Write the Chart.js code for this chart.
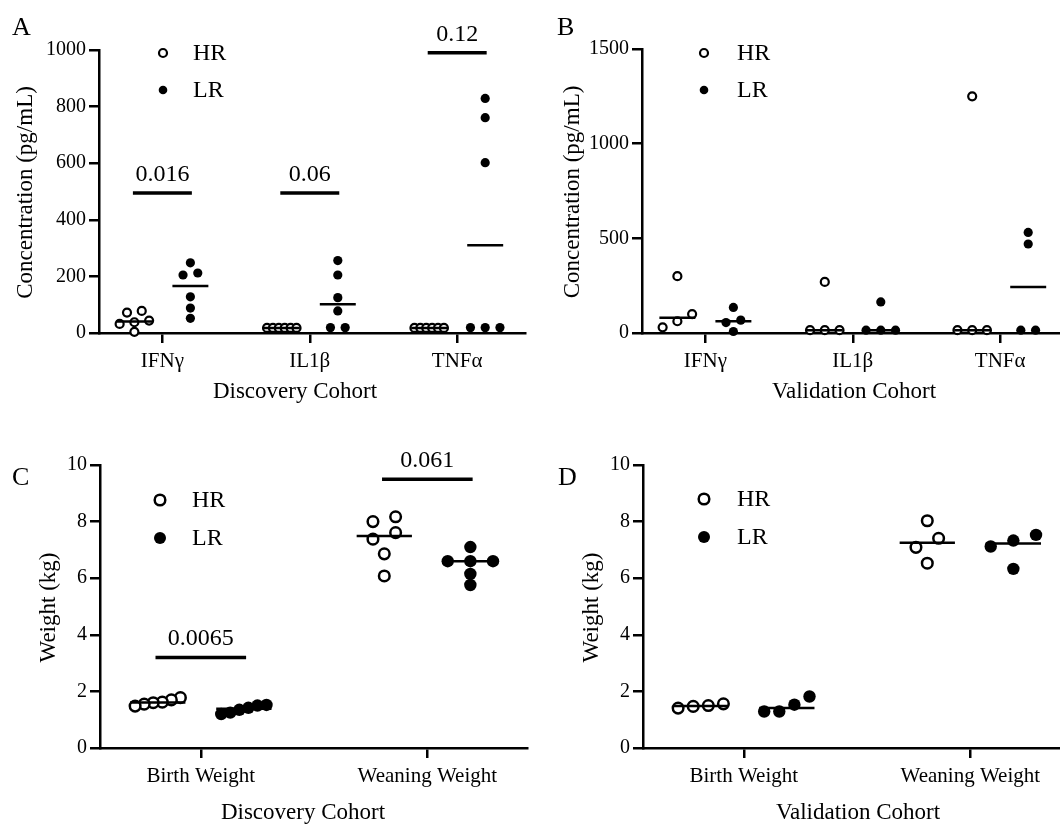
<!DOCTYPE html>
<html lang="en">
<head>
<meta charset="UTF-8">
<title>HR vs LR - cytokines and weights</title>
<script src="https://cdn.jsdelivr.net/npm/chart.js"></script>
<style>
  html, body { margin: 0; padding: 0; background: #fff; overflow: hidden; }
  body { width: 1060px; height: 828px; position: relative; }
  canvas { position: absolute; }
</style>
</head>
<body>
<canvas id="chartA" width="545" height="414" style="left:0;top:0"></canvas>
<canvas id="chartB" width="530" height="414" style="left:545px;top:0"></canvas>
<canvas id="chartC" width="545" height="414" style="left:0;top:414px"></canvas>
<canvas id="chartD" width="530" height="414" style="left:545px;top:414px"></canvas>
<script>
// categories
const cytokines = ['IFNγ', 'IL1β', 'TNFα'];
const weightTimes = ['Birth Weight', 'Weaning Weight'];

// A: discovery cohort cytokines (pg/mL), one inner array per cytokine
const discCytoHR = [[78, 72, 44, 38, 32, 4], [18, 18, 18, 18, 18, 18], [18, 18, 18, 18, 18, 18]];
const discCytoLR = [[248, 212, 205, 128, 88, 52], [256, 205, 125, 78, 19, 19], [829, 761, 602, 19, 19, 19]];
const discCytoP = ['0.016', '0.06', '0.12'];
const discCytoBarY = [495, 495, 990];

// B: validation cohort cytokines (pg/mL)
const valCytoHR = [[300, 100, 62, 30], [270, 15, 15, 15], [1250, 15, 15, 15]];
const valCytoLR = [[135, 68, 55, 8], [164, 15, 15, 15], [531, 470, 15, 15]];

// C: discovery cohort weights (kg)
const discWeightHR = [[1.78, 1.7, 1.62, 1.6, 1.55, 1.48], [8.17, 8.0, 7.61, 7.38, 6.86, 6.08]];
const discWeightLR = [[1.52, 1.5, 1.42, 1.35, 1.25, 1.2], [7.1, 6.6, 6.6, 6.6, 6.15, 5.76]];
const discWeightP = ['0.0065', '0.061'];
const discWeightBarY = [3.2, 9.5];

// D: validation cohort weights (kg)
const valWeightHR = [[1.56, 1.5, 1.47, 1.41], [8.03, 7.41, 7.09, 6.53]];
const valWeightLR = [[1.82, 1.53, 1.29, 1.29], [7.53, 7.33, 7.12, 6.33]];

// tick labels
const cytoTicksA = [0, 200, 400, 600, 800, 1000];
const cytoTicksB = [0, 500, 1000, 1500];
const weightTicks = [0, 2, 4, 6, 8, 10];

const FONT = '"Liberation Serif", "Times New Roman", serif';
const GROUP_OFF = 0.19;   // HR left of the tick, LR right
const MEDIAN_HALF = 0.122;
const BAR_HALF = 0.2;

function median(vals) {
  const s = vals.slice().sort((a, b) => a - b);
  const n = s.length;
  return n % 2 ? s[(n - 1) / 2] : (s[n / 2 - 1] + s[n / 2]) / 2;
}

// simple row-wise scatter spread, like a column scatter plot
function spread(vals, pxPerY, thr) {
  const idx = vals.map((v, i) => i).sort((a, b) => vals[b] - vals[a]);
  const offs = new Array(vals.length).fill(0);
  let row = [];
  const flush = () => {
    const r = row.slice().sort((a, b) => vals[a] - vals[b]);
    const n = r.length;
    const step = n > 1 ? Math.min(0.1, 0.2 / (n - 1)) : 0;
    r.forEach((k, j) => { offs[k] = (j - (n - 1) / 2) * step; });
    row = [];
  };
  idx.forEach(k => {
    if (row.length && (vals[row[row.length - 1]] - vals[k]) * pxPerY >= thr) flush();
    row.push(k);
  });
  flush();
  return offs;
}

const annotate = {
  id: 'annotate',
  afterDraw(chart, args, o) {
    const ctx = chart.ctx;
    const area = chart.chartArea;
    const xs = chart.scales.x, ys = chart.scales.y;
    ctx.save();
    ctx.fillStyle = '#000';
    ctx.strokeStyle = '#000';

    ctx.font = '26px ' + FONT;
    ctx.textAlign = 'left';
    ctx.textBaseline = 'alphabetic';
    ctx.fillText(o.letter, o.letterX, o.letterY);

    ctx.font = '23px ' + FONT;
    ctx.textAlign = 'center';
    ctx.textBaseline = 'middle';
    ctx.save();
    ctx.translate(o.yTitleX, (area.top + area.bottom) / 2 + 1);
    ctx.rotate(-Math.PI / 2);
    ctx.fillText(o.yTitle, 0, 0);
    ctx.restore();
    ctx.fillText(o.xTitle, o.xTitleX, o.xTitleY);

    // legend
    ctx.font = '24px ' + FONT;
    ctx.textAlign = 'left';
    ctx.beginPath();
    ctx.arc(o.legX, o.legY[0], o.rOpen, 0, Math.PI * 2);
    ctx.fillStyle = '#fff';
    ctx.fill();
    ctx.lineWidth = o.bw;
    ctx.stroke();
    ctx.fillStyle = '#000';
    ctx.beginPath();
    ctx.arc(o.legX, o.legY[1], o.rFill, 0, Math.PI * 2);
    ctx.fill();
    ctx.fillText('HR', o.legTextX, o.legY[0] + 1);
    ctx.fillText('LR', o.legTextX, o.legY[1] + 1);

    // p values above the bars
    if (o.pLabels) {
      ctx.textAlign = 'center';
      ctx.textBaseline = 'alphabetic';
      o.pLabels.forEach((t, i) => {
        ctx.fillText(t, xs.getPixelForValue(i), ys.getPixelForValue(o.pBars[i]) - 12);
      });
    }
    ctx.restore();
  }
};

function buildPanel(id, cats, hr, lr, yTicks, cfg, ann) {
  const plotH = cfg.bottom - cfg.top;
  const pxPerY = plotH / yTicks[yTicks.length - 1];
  const datasets = [];
  cats.forEach((c, i) => {
    [[hr[i], -GROUP_OFF, true], [lr[i], GROUP_OFF, false]].forEach(([vals, off, open]) => {
      const jit = spread(vals, pxPerY, cfg.thr);
      datasets.push({
        type: 'scatter',
        data: vals.map((v, k) => ({ x: i + off + jit[k], y: v })),
        pointStyle: 'circle',
        pointRadius: open ? cfg.rOpen : cfg.rFill,
        pointHoverRadius: open ? cfg.rOpen : cfg.rFill,
        pointBackgroundColor: open ? '#fff' : '#000',
        pointBorderColor: '#000',
        pointBorderWidth: open ? cfg.bw : 0,
        clip: false,
        order: 2
      });
      const m = median(vals);
      datasets.push({
        type: 'line',
        data: [{ x: i + off - MEDIAN_HALF, y: m }, { x: i + off + MEDIAN_HALF, y: m }],
        borderColor: '#000',
        borderWidth: 2.5,
        pointRadius: 0,
        clip: false,
        order: 1
      });
    });
    if (ann.pBars) {
      datasets.push({
        type: 'line',
        data: [{ x: i - BAR_HALF, y: ann.pBars[i] }, { x: i + BAR_HALF, y: ann.pBars[i] }],
        borderColor: '#000',
        borderWidth: 3.5,
        pointRadius: 0,
        clip: false,
        order: 1
      });
    }
  });

  const axisStyle = {
    border: { display: true, color: '#000', width: 2.5 },
    grid: { display: true, drawOnChartArea: false, drawTicks: true, tickLength: 10, lineWidth: 2.5, color: '#000' }
  };

  new Chart(document.getElementById(id), {
    type: 'scatter',
    data: { datasets },
    options: {
      responsive: false,
      animation: false,
      events: [],
      layout: {
        autoPadding: false,
        padding: { left: 0, top: cfg.top, right: cfg.canvasW - cfg.right, bottom: 0 }
      },
      plugins: {
        legend: { display: false },
        tooltip: { enabled: false },
        annotate: ann
      },
      scales: {
        x: {
          type: 'linear',
          min: cfg.xMin,
          max: cfg.xMax,
          ...axisStyle,
          afterBuildTicks: s => { s.ticks = cats.map((c, i) => ({ value: i })); },
          afterFit: s => { s.height = cfg.canvasH - cfg.bottom; },
          ticks: {
            color: '#000',
            padding: 6,
            font: { family: FONT, size: 21 },
            callback: v => cats[v]
          }
        },
        y: {
          type: 'linear',
          min: 0,
          max: yTicks[yTicks.length - 1],
          ...axisStyle,
          afterBuildTicks: s => { s.ticks = yTicks.map(v => ({ value: v })); },
          afterFit: s => { s.width = cfg.left; },
          ticks: {
            color: '#000',
            padding: 3,
            font: { family: FONT, size: 20 },
            callback: v => String(v)
          }
        }
      }
    },
    plugins: [annotate]
  });
}

buildPanel('chartA', cytokines, discCytoHR, discCytoLR, cytoTicksA,
  { canvasW: 545, canvasH: 414, left: 99, right: 525, top: 50, bottom: 333, xMin: -0.43, xMax: 2.46, thr: 7.5, rOpen: 4, rFill: 4.6, bw: 2.2 },
  { letter: 'A', letterX: 12, letterY: 35, yTitle: 'Concentration (pg/mL)', yTitleX: 26, xTitle: 'Discovery Cohort', xTitleX: 295, xTitleY: 392,
    legX: 163, legY: [53, 90], legTextX: 193, rOpen: 4, rFill: 4.3, bw: 2.2, pLabels: discCytoP, pBars: discCytoBarY });

buildPanel('chartB', cytokines, valCytoHR, valCytoLR, cytoTicksB,
  { canvasW: 530, canvasH: 414, left: 97, right: 523, top: 49, bottom: 333, xMin: -0.43, xMax: 2.46, thr: 7.5, rOpen: 4, rFill: 4.6, bw: 2.2 },
  { letter: 'B', letterX: 12, letterY: 35, yTitle: 'Concentration (pg/mL)', yTitleX: 28, xTitle: 'Validation Cohort', xTitleX: 309, xTitleY: 392,
    legX: 159, legY: [53, 90], legTextX: 192, rOpen: 4, rFill: 4.3, bw: 2.2 });

buildPanel('chartC', weightTimes, discWeightHR, discWeightLR, weightTicks,
  { canvasW: 545, canvasH: 414, left: 100, right: 527, top: 51, bottom: 334, xMin: -0.445, xMax: 1.44, thr: 10.5, rOpen: 5.3, rFill: 6.2, bw: 2.5 },
  { letter: 'C', letterX: 12, letterY: 71, yTitle: 'Weight (kg)', yTitleX: 49, xTitle: 'Discovery Cohort', xTitleX: 303, xTitleY: 399,
    legX: 160, legY: [86, 124], legTextX: 192, rOpen: 5.3, rFill: 6, bw: 2.5, pLabels: discWeightP, pBars: discWeightBarY });

buildPanel('chartD', weightTimes, valWeightHR, valWeightLR, weightTicks,
  { canvasW: 530, canvasH: 414, left: 98, right: 525, top: 51, bottom: 334, xMin: -0.445, xMax: 1.44, thr: 10.5, rOpen: 5.3, rFill: 6.2, bw: 2.5 },
  { letter: 'D', letterX: 13, letterY: 71, yTitle: 'Weight (kg)', yTitleX: 47, xTitle: 'Validation Cohort', xTitleX: 313, xTitleY: 399,
    legX: 159, legY: [85, 123], legTextX: 192, rOpen: 5.3, rFill: 6, bw: 2.5 });
</script>
</body>
</html>
